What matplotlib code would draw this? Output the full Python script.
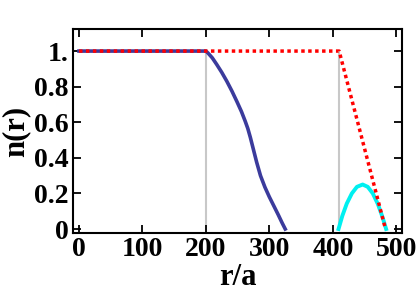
import numpy as np
import matplotlib.pyplot as plt

# blue curve (inner profile)
r_blue = [0, 200, 203, 210, 217, 225, 233, 241, 249, 256, 262, 266, 270, 275,
          280, 286, 293, 300, 307, 314, 320, 325]
n_blue = [1.0, 1.0, 0.99, 0.962, 0.925, 0.88, 0.83, 0.775, 0.715, 0.66, 0.605, 0.565,
          0.515, 0.445, 0.375, 0.30, 0.235, 0.18, 0.13, 0.08, 0.035, 0.0]

# cyan curve (outer bump)
r_cyan = [409, 415, 422, 430, 438, 447, 455, 463, 471, 478, 484]
n_cyan = [0.0, 0.074, 0.143, 0.20, 0.237, 0.25, 0.237, 0.20, 0.14, 0.07, 0.0]

# red dotted envelope
r_red = [0, 410, 483]
n_red = [1.0, 1.0, 0.0]

# grey markers
r_grey = [200, 410]

plt.rcParams['font.family'] = ['Liberation Serif', 'DejaVu Serif']
plt.rcParams['font.weight'] = 'bold'
plt.rcParams['font.size'] = 20

fig = plt.figure(figsize=(4.17, 2.99), dpi=100)
ax = fig.add_axes([0.175, 0.221, 0.789, 0.682])

for rg in r_grey:
    ax.plot([rg, rg], [0, 1], color='#c8c8c8', lw=1.5, zorder=1)

ax.plot(r_blue, n_blue, color='#3b3b9c', lw=2.6, zorder=2)
ax.plot(r_cyan, n_cyan, color='#00f0f0', lw=2.8, zorder=2)
ax.plot(r_red, n_red, color='red', lw=2.5, linestyle=(0, (1, 1)), zorder=3)

ax.set_xlim(-9.5, 509)
ax.set_ylim(-0.022, 1.124)
ax.set_xticks([0, 100, 200, 300, 400, 500])
ax.set_yticks([0, 0.2, 0.4, 0.6, 0.8, 1.0])
ax.set_yticklabels(['0', '0.2', '0.4', '0.6', '0.8', '1.'])
ax.tick_params(direction='in', length=6, width=1.3, top=True, right=True, pad=3)

for s in ax.spines.values():
    s.set_linewidth(1.5)

ax.set_xlabel('r/a', fontsize=22, fontweight='bold', labelpad=1)
ax.set_ylabel('n(r)', fontsize=22, fontweight='bold', labelpad=3)

plt.savefig('out.png', dpi=100)
